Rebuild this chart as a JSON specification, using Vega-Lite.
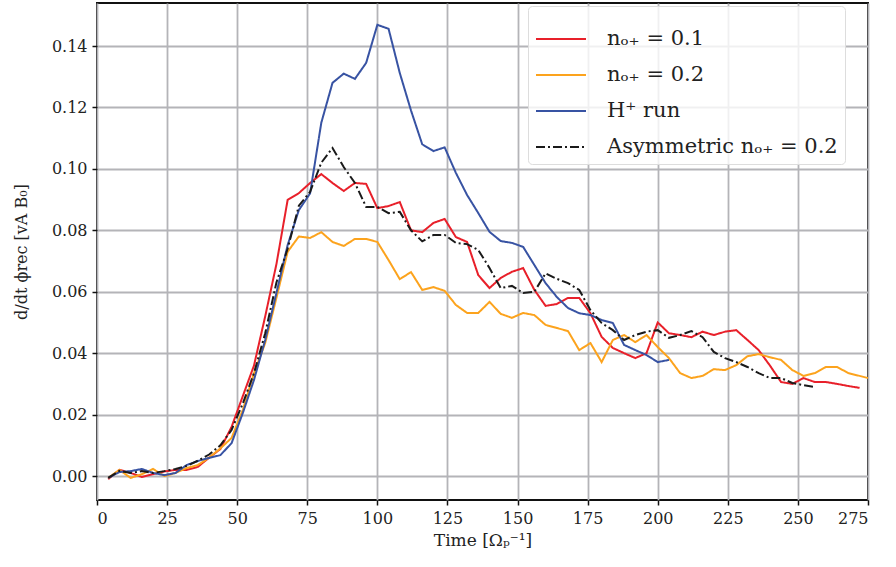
{
  "$schema": "https://vega.github.io/schema/vega-lite/v6.json",
  "width": 771,
  "height": 497,
  "autosize": {"type": "none"},
  "padding": {"left": 97, "top": 3, "right": 28, "bottom": 67},
  "background": "white",
  "config": {
    "font": "DejaVu Serif",
    "view": {"stroke": "#111", "strokeWidth": 2},
    "axis": {
      "domain": false,
      "grid": true,
      "gridColor": "#b4b4b8",
      "gridWidth": 1.8,
      "tickColor": "#111",
      "tickSize": 5,
      "tickWidth": 1.5,
      "labelFont": "DejaVu Serif",
      "labelFontSize": 16,
      "labelColor": "#222",
      "titleFont": "DejaVu Serif",
      "titleFontSize": 17,
      "titleFontWeight": "normal",
      "titleColor": "#222"
    }
  },
  "data": {"values": [
    {"s":"A","t":4,"v":-0.001},{"s":"A","t":8,"v":0.002},{"s":"A","t":12,"v":0.001},{"s":"A","t":16,"v":-0.0003},{"s":"A","t":20,"v":0.0006},{"s":"A","t":24,"v":0.0015},{"s":"A","t":28,"v":0.002},{"s":"A","t":32,"v":0.002},{"s":"A","t":36,"v":0.003},{"s":"A","t":40,"v":0.006},{"s":"A","t":44,"v":0.0088},{"s":"A","t":48,"v":0.016},{"s":"A","t":52,"v":0.026},{"s":"A","t":56,"v":0.036},{"s":"A","t":60,"v":0.052},{"s":"A","t":64,"v":0.069},{"s":"A","t":68,"v":0.0899},{"s":"A","t":72,"v":0.0921},{"s":"A","t":76,"v":0.0954},{"s":"A","t":80,"v":0.0983},{"s":"A","t":84,"v":0.0954},{"s":"A","t":88,"v":0.0928},{"s":"A","t":92,"v":0.0954},{"s":"A","t":96,"v":0.0951},{"s":"A","t":100,"v":0.0872},{"s":"A","t":104,"v":0.0879},{"s":"A","t":108,"v":0.0892},{"s":"A","t":112,"v":0.08},{"s":"A","t":116,"v":0.0794},{"s":"A","t":120,"v":0.0824},{"s":"A","t":124,"v":0.0837},{"s":"A","t":128,"v":0.0778},{"s":"A","t":132,"v":0.0762},{"s":"A","t":136,"v":0.0654},{"s":"A","t":140,"v":0.0612},{"s":"A","t":144,"v":0.0645},{"s":"A","t":148,"v":0.0665},{"s":"A","t":152,"v":0.0677},{"s":"A","t":156,"v":0.0606},{"s":"A","t":160,"v":0.0554},{"s":"A","t":164,"v":0.056},{"s":"A","t":168,"v":0.058},{"s":"A","t":172,"v":0.058},{"s":"A","t":176,"v":0.053},{"s":"A","t":180,"v":0.0453},{"s":"A","t":184,"v":0.0417},{"s":"A","t":188,"v":0.04},{"s":"A","t":192,"v":0.0384},{"s":"A","t":196,"v":0.04},{"s":"A","t":200,"v":0.05},{"s":"A","t":204,"v":0.0465},{"s":"A","t":208,"v":0.0459},{"s":"A","t":212,"v":0.0452},{"s":"A","t":216,"v":0.047},{"s":"A","t":220,"v":0.0459},{"s":"A","t":224,"v":0.047},{"s":"A","t":228,"v":0.0475},{"s":"A","t":232,"v":0.0443},{"s":"A","t":236,"v":0.041},{"s":"A","t":240,"v":0.036},{"s":"A","t":244,"v":0.0306},{"s":"A","t":248,"v":0.03},{"s":"A","t":252,"v":0.0319},{"s":"A","t":256,"v":0.0306},{"s":"A","t":260,"v":0.0306},{"s":"A","t":264,"v":0.03},{"s":"A","t":268,"v":0.0293},{"s":"A","t":272,"v":0.0287},
    {"s":"B","t":4,"v":-0.0006},{"s":"B","t":8,"v":0.002},{"s":"B","t":12,"v":-0.0006},{"s":"B","t":16,"v":0.0006},{"s":"B","t":20,"v":0.0023},{"s":"B","t":24,"v":0.0},{"s":"B","t":28,"v":0.001},{"s":"B","t":32,"v":0.0026},{"s":"B","t":36,"v":0.0036},{"s":"B","t":40,"v":0.006},{"s":"B","t":44,"v":0.009},{"s":"B","t":48,"v":0.0124},{"s":"B","t":52,"v":0.0215},{"s":"B","t":56,"v":0.0335},{"s":"B","t":60,"v":0.0433},{"s":"B","t":64,"v":0.058},{"s":"B","t":68,"v":0.073},{"s":"B","t":72,"v":0.078},{"s":"B","t":76,"v":0.0775},{"s":"B","t":80,"v":0.0794},{"s":"B","t":84,"v":0.0762},{"s":"B","t":88,"v":0.0749},{"s":"B","t":92,"v":0.0772},{"s":"B","t":96,"v":0.0772},{"s":"B","t":100,"v":0.0762},{"s":"B","t":104,"v":0.0703},{"s":"B","t":108,"v":0.0641},{"s":"B","t":112,"v":0.0664},{"s":"B","t":116,"v":0.0606},{"s":"B","t":120,"v":0.0615},{"s":"B","t":124,"v":0.0603},{"s":"B","t":128,"v":0.0557},{"s":"B","t":132,"v":0.0531},{"s":"B","t":136,"v":0.0531},{"s":"B","t":140,"v":0.0567},{"s":"B","t":144,"v":0.0528},{"s":"B","t":148,"v":0.0515},{"s":"B","t":152,"v":0.0531},{"s":"B","t":156,"v":0.0524},{"s":"B","t":160,"v":0.0492},{"s":"B","t":164,"v":0.0482},{"s":"B","t":168,"v":0.0472},{"s":"B","t":172,"v":0.041},{"s":"B","t":176,"v":0.0433},{"s":"B","t":180,"v":0.0371},{"s":"B","t":184,"v":0.0443},{"s":"B","t":188,"v":0.0459},{"s":"B","t":192,"v":0.0436},{"s":"B","t":196,"v":0.0459},{"s":"B","t":200,"v":0.042},{"s":"B","t":204,"v":0.0384},{"s":"B","t":208,"v":0.0335},{"s":"B","t":212,"v":0.0319},{"s":"B","t":216,"v":0.0326},{"s":"B","t":220,"v":0.0348},{"s":"B","t":224,"v":0.0345},{"s":"B","t":228,"v":0.0361},{"s":"B","t":232,"v":0.039},{"s":"B","t":236,"v":0.0397},{"s":"B","t":240,"v":0.0387},{"s":"B","t":244,"v":0.0378},{"s":"B","t":248,"v":0.0345},{"s":"B","t":252,"v":0.0326},{"s":"B","t":256,"v":0.0335},{"s":"B","t":260,"v":0.0355},{"s":"B","t":264,"v":0.0355},{"s":"B","t":268,"v":0.0335},{"s":"B","t":272,"v":0.0326},{"s":"B","t":275,"v":0.0319},
    {"s":"C","t":4,"v":-0.0006},{"s":"C","t":8,"v":0.0013},{"s":"C","t":12,"v":0.0016},{"s":"C","t":16,"v":0.0023},{"s":"C","t":20,"v":0.001},{"s":"C","t":24,"v":0.0003},{"s":"C","t":28,"v":0.001},{"s":"C","t":32,"v":0.0036},{"s":"C","t":36,"v":0.0049},{"s":"C","t":40,"v":0.0059},{"s":"C","t":44,"v":0.0068},{"s":"C","t":48,"v":0.0107},{"s":"C","t":52,"v":0.0205},{"s":"C","t":56,"v":0.0313},{"s":"C","t":60,"v":0.0443},{"s":"C","t":64,"v":0.0596},{"s":"C","t":68,"v":0.0752},{"s":"C","t":72,"v":0.0866},{"s":"C","t":76,"v":0.092},{"s":"C","t":80,"v":0.115},{"s":"C","t":84,"v":0.128},{"s":"C","t":88,"v":0.131},{"s":"C","t":92,"v":0.1293},{"s":"C","t":96,"v":0.1345},{"s":"C","t":100,"v":0.1469},{"s":"C","t":104,"v":0.1456},{"s":"C","t":108,"v":0.1312},{"s":"C","t":112,"v":0.119},{"s":"C","t":116,"v":0.108},{"s":"C","t":120,"v":0.1058},{"s":"C","t":124,"v":0.107},{"s":"C","t":128,"v":0.0987},{"s":"C","t":132,"v":0.0915},{"s":"C","t":136,"v":0.0856},{"s":"C","t":140,"v":0.0795},{"s":"C","t":144,"v":0.0765},{"s":"C","t":148,"v":0.0759},{"s":"C","t":152,"v":0.0746},{"s":"C","t":156,"v":0.0687},{"s":"C","t":160,"v":0.0628},{"s":"C","t":164,"v":0.0583},{"s":"C","t":168,"v":0.0547},{"s":"C","t":172,"v":0.053},{"s":"C","t":176,"v":0.0524},{"s":"C","t":180,"v":0.0508},{"s":"C","t":184,"v":0.0498},{"s":"C","t":188,"v":0.0427},{"s":"C","t":192,"v":0.041},{"s":"C","t":196,"v":0.0394},{"s":"C","t":200,"v":0.0371},{"s":"C","t":204,"v":0.0378},
    {"s":"D","t":4,"v":-0.0006},{"s":"D","t":8,"v":0.0017},{"s":"D","t":12,"v":0.001},{"s":"D","t":16,"v":0.0016},{"s":"D","t":20,"v":0.001},{"s":"D","t":24,"v":0.0016},{"s":"D","t":28,"v":0.0023},{"s":"D","t":32,"v":0.0033},{"s":"D","t":36,"v":0.005},{"s":"D","t":40,"v":0.007},{"s":"D","t":44,"v":0.01},{"s":"D","t":48,"v":0.015},{"s":"D","t":52,"v":0.0236},{"s":"D","t":56,"v":0.0335},{"s":"D","t":60,"v":0.0465},{"s":"D","t":64,"v":0.063},{"s":"D","t":68,"v":0.074},{"s":"D","t":72,"v":0.088},{"s":"D","t":76,"v":0.0925},{"s":"D","t":80,"v":0.102},{"s":"D","t":84,"v":0.1068},{"s":"D","t":88,"v":0.1006},{"s":"D","t":92,"v":0.0954},{"s":"D","t":96,"v":0.0876},{"s":"D","t":100,"v":0.0876},{"s":"D","t":104,"v":0.0856},{"s":"D","t":108,"v":0.086},{"s":"D","t":112,"v":0.08},{"s":"D","t":116,"v":0.0764},{"s":"D","t":120,"v":0.0785},{"s":"D","t":124,"v":0.0785},{"s":"D","t":128,"v":0.0759},{"s":"D","t":132,"v":0.0755},{"s":"D","t":136,"v":0.0736},{"s":"D","t":140,"v":0.0677},{"s":"D","t":144,"v":0.0612},{"s":"D","t":148,"v":0.0619},{"s":"D","t":152,"v":0.0596},{"s":"D","t":156,"v":0.06},{"s":"D","t":160,"v":0.066},{"s":"D","t":164,"v":0.0642},{"s":"D","t":168,"v":0.0628},{"s":"D","t":172,"v":0.0606},{"s":"D","t":176,"v":0.054},{"s":"D","t":180,"v":0.0498},{"s":"D","t":184,"v":0.0475},{"s":"D","t":188,"v":0.0443},{"s":"D","t":192,"v":0.0459},{"s":"D","t":196,"v":0.047},{"s":"D","t":200,"v":0.0475},{"s":"D","t":204,"v":0.045},{"s":"D","t":208,"v":0.0459},{"s":"D","t":212,"v":0.0472},{"s":"D","t":216,"v":0.0452},{"s":"D","t":220,"v":0.0404},{"s":"D","t":224,"v":0.0384},{"s":"D","t":228,"v":0.0371},{"s":"D","t":232,"v":0.0355},{"s":"D","t":236,"v":0.0335},{"s":"D","t":240,"v":0.0319},{"s":"D","t":244,"v":0.0319},{"s":"D","t":248,"v":0.0303},{"s":"D","t":252,"v":0.0296},{"s":"D","t":256,"v":0.029}
  ]},
  "mark": {"type": "line", "strokeWidth": 2, "clip": true},
  "encoding": {
    "x": {
      "field": "t", "type": "quantitative",
      "scale": {"domain": [0, 275], "nice": false, "zero": false},
      "axis": {"values": [0,25,50,75,100,125,150,175,200,225,250,275], "title": "Time [Ωₚ⁻¹]", "labelPadding": 5, "titlePadding": 6}
    },
    "y": {
      "field": "v", "type": "quantitative",
      "scale": {"domain": [-0.0078, 0.154], "nice": false, "zero": false},
      "axis": {"values": [0,0.02,0.04,0.06,0.08,0.1,0.12,0.14], "format": ".2f", "title": "d/dt ϕrec [vA B₀]", "titleFontSize": 16, "labelPadding": 5, "titlePadding": 22}
    },
    "color": {
      "field": "s", "type": "nominal",
      "scale": {"domain": ["A","B","C","D"], "range": ["#e8202a", "#fca31d", "#3853a3", "#1a1a1a"]},
      "legend": {
        "title": null,
        "orient": "none",
        "legendX": 431,
        "legendY": 3,
        "symbolType": "stroke",
        "symbolSize": 2500,
        "symbolStrokeWidth": 2.5,
        "labelFont": "DejaVu Serif",
        "labelFontSize": 21,
        "labelColor": "#222",
        "labelOffset": 20,
        "labelLimit": 500,
        "rowPadding": 0,
        "padding": 7,
        "fillColor": "rgba(255,255,255,0.8)",
        "strokeColor": "#dddddd",
        "cornerRadius": 4,
        "labelExpr": "datum.value=='A'?'nₒ₊ = 0.1':datum.value=='B'?'nₒ₊ = 0.2':datum.value=='C'?'H⁺ run':'Asymmetric nₒ₊ = 0.2'"
      }
    },
    "strokeDash": {
      "field": "s", "type": "nominal",
      "scale": {"domain": ["A","B","C","D"], "range": [[1,0],[1,0],[1,0],[9,3,2,3]]},
      "legend": null
    },
    "strokeWidth": {
      "field": "s", "type": "nominal",
      "scale": {"domain": ["A","B","C","D"], "range": [2,2,2,2.6]},
      "legend": null
    }
  }
}
